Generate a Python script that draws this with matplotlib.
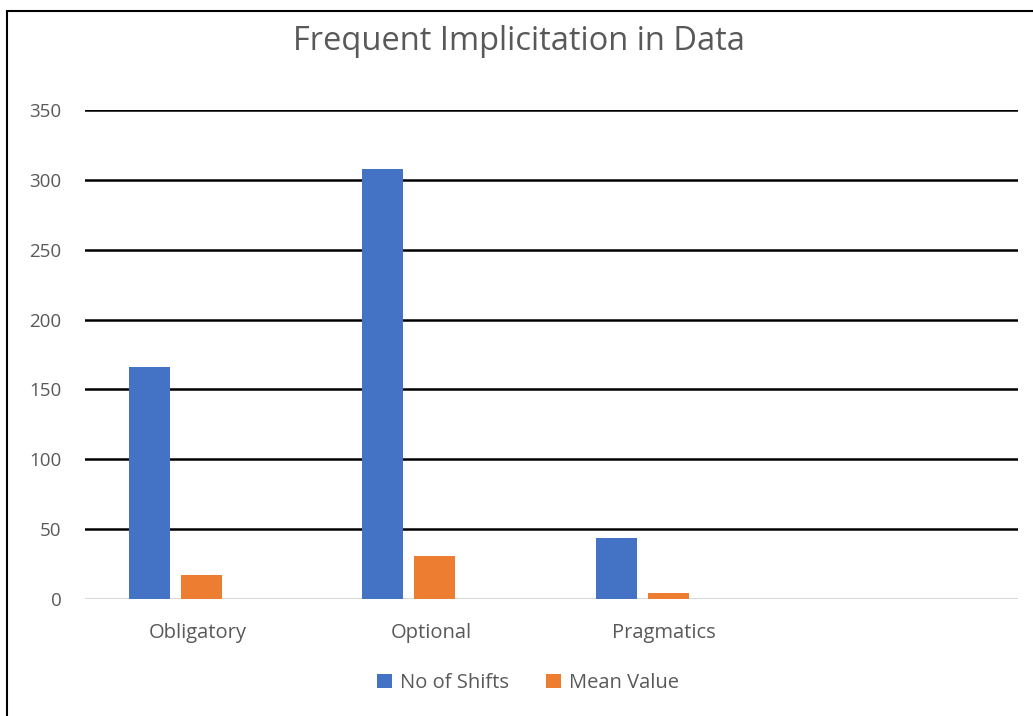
import matplotlib
matplotlib.use('Agg')
import matplotlib.pyplot as plt
import matplotlib.transforms as mtransforms
from matplotlib.patches import Rectangle
import numpy as np

# === Data ===
categories = ["Obligatory", "Optional", "Pragmatics", ""]
no_of_shifts = [166, 308, 44]
mean_value = [17, 31, 4]

BLUE = '#4472C4'
ORANGE = '#ED7D31'
TEXT = '#595959'

plt.rcParams['font.family'] = ['Open Sans', 'DejaVu Sans']

fig = plt.figure(figsize=(10.33, 7.16), dpi=100)
W, H = 1033, 716
# axes box in pixel coords: left 85, right 1018, top 110, bottom 599
ax = fig.add_axes([85 / W, 1 - 599 / H, (1018 - 85) / W, (599 - 110) / H])

# outer chart frame (cut off at right and bottom like the screenshot)
fig.patches.append(Rectangle((7 / W, -0.05), 1.2, 1 - 11 / H + 0.05,
                             transform=fig.transFigure, fill=False,
                             edgecolor='black', linewidth=1.5))

bar_w = 0.176
step = 0.223
x = np.arange(len(no_of_shifts))
ax.bar(x - step, no_of_shifts, width=bar_w, color=BLUE, label='No of Shifts', zorder=3)
ax.bar(x, mean_value, width=bar_w, color=ORANGE, label='Mean Value', zorder=3)

ax.set_xlim(-0.5, len(categories) - 0.5)
ax.set_ylim(0, 350)
ax.set_yticks(np.arange(0, 351, 50))
ax.set_xticks(np.arange(len(categories)))
ax.set_xticklabels(categories)

ax.grid(axis='y', color='black', linewidth=1.8, zorder=0)
ax.set_axisbelow(True)
ax.axhline(0, color='#D9D9D9', linewidth=1.5, zorder=2)

for s in ax.spines.values():
    s.set_visible(False)
ax.tick_params(axis='y', length=0, labelsize=13.5, colors=TEXT, pad=17)
ax.tick_params(axis='x', length=0, labelsize=14.5, colors=TEXT, pad=17)

# nudge category labels slightly left, like the source
shift = mtransforms.ScaledTranslation(-4 / 100, 0, fig.dpi_scale_trans)
for lbl in ax.get_xticklabels():
    lbl.set_transform(lbl.get_transform() + shift)

fig.text(519 / W, 1 - 42 / H, "Frequent Implicitation in Data", ha='center', va='center',
         fontsize=23.5, color=TEXT)

fig.legend(loc='center', bbox_to_anchor=(528 / W, 1 - 683 / H), ncol=2, frameon=False,
           fontsize=14.5, labelcolor=TEXT, handlelength=0.75, handleheight=0.75,
           handletextpad=0.4, columnspacing=1.8)

fig.savefig('out.png', dpi=100)
